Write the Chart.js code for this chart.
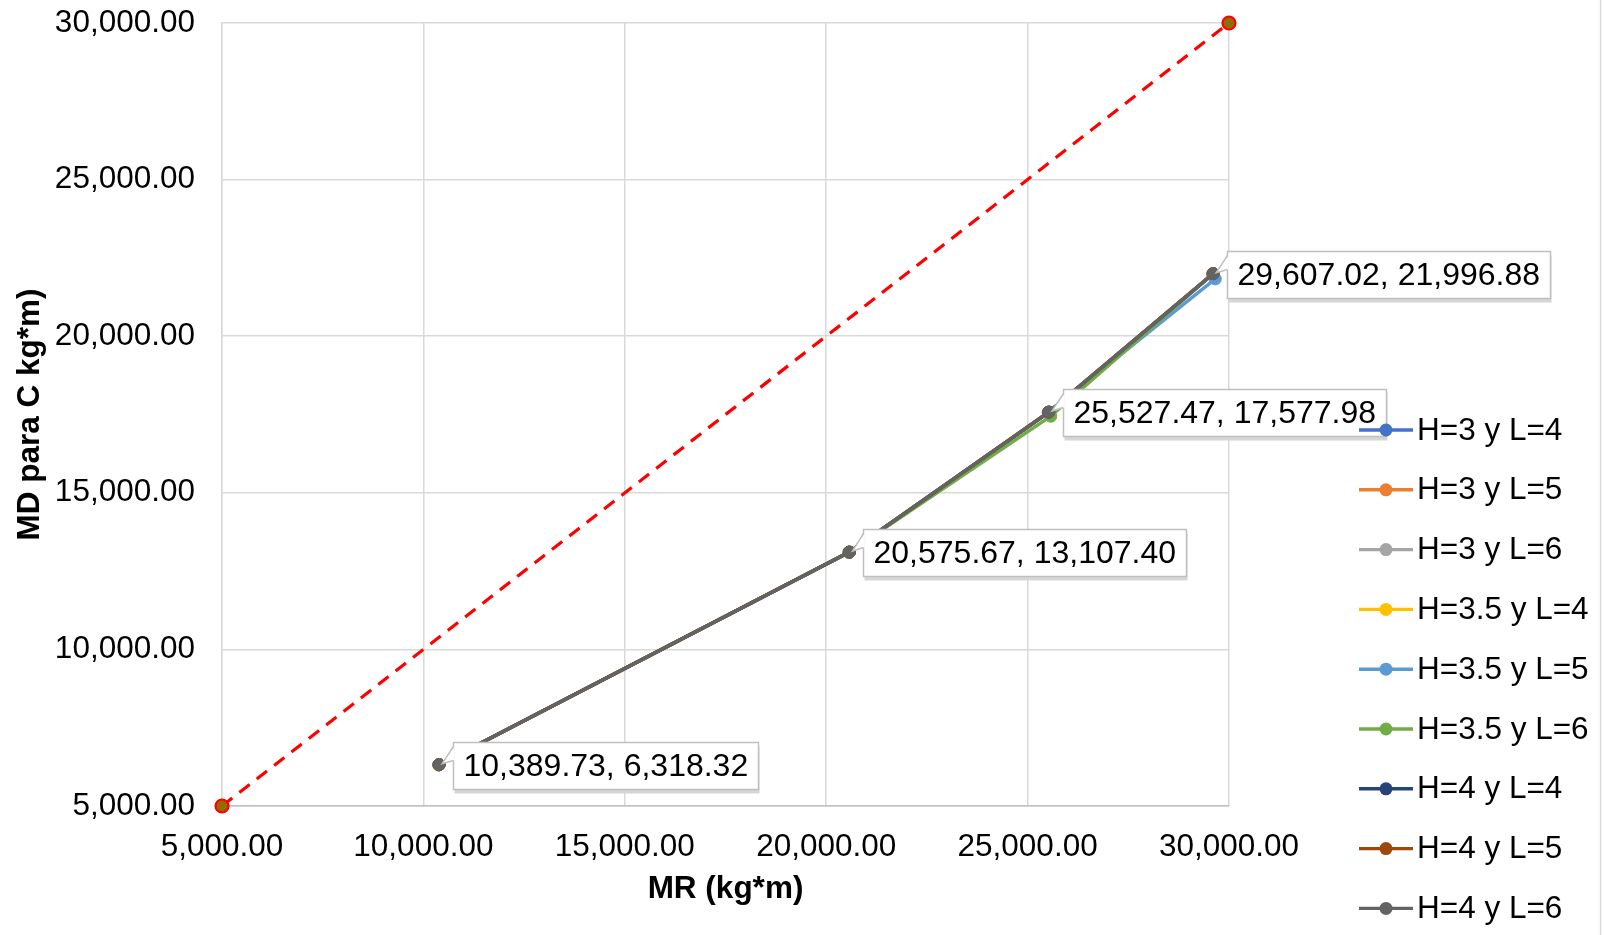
<!DOCTYPE html>
<html>
<head>
<meta charset="utf-8">
<script src="https://cdn.jsdelivr.net/npm/chart.js@4.4.1/dist/chart.umd.min.js"></script>
<style>
html,body{margin:0;padding:0;background:#ffffff;overflow:hidden;}
#wrap{position:relative;width:1606px;height:935px;}
</style>
</head>
<body>
<div id="wrap"><canvas id="c" width="1606" height="935"></canvas></div>
<script>
// ---------- DATA ----------
const seriesNames = ['H=3 y L=4','H=3 y L=5','H=3 y L=6','H=3.5 y L=4','H=3.5 y L=5','H=3.5 y L=6','H=4 y L=4','H=4 y L=5','H=4 y L=6'];
const seriesColors = ['#4472C4','#ED7D31','#A5A5A5','#FFC000','#5B9BD5','#70AD47','#264478','#9E480E','#636363'];

const mr_H3_L4   = [10380.50, 20560.20, 25510.80, 29590.40];
const md_H3_L4   = [6310.60, 13095.20, 17560.30, 21975.10];
const mr_H3_L5   = [10384.10, 20566.90, 25518.30, 29598.70];
const md_H3_L5   = [6313.90, 13100.80, 17568.40, 21986.20];
const mr_H3_L6   = [10387.20, 20571.30, 25523.60, 29603.10];
const md_H3_L6   = [6316.10, 13104.50, 17573.70, 21992.00];
const mr_H35_L4  = [10382.40, 20563.00, 25514.90, 29594.60];
const md_H35_L4  = [6312.00, 13097.90, 17564.10, 21980.70];
const mr_H35_L5  = [10386.00, 20569.80, 25521.10, 29660.00];
const md_H35_L5  = [6315.00, 13102.60, 17571.20, 21830.00];
const mr_H35_L6  = [10388.10, 20572.50, 25575.00, 29605.50];
const md_H35_L6  = [6317.20, 13105.90, 17445.00, 21994.30];
const mr_H4_L4   = [10389.00, 20574.20, 25525.90, 29605.80];
const md_H4_L4   = [6317.80, 13106.50, 17576.40, 21995.20];
const mr_H4_L5   = [10389.40, 20575.00, 25526.80, 29606.40];
const md_H4_L5   = [6318.00, 13107.00, 17577.20, 21996.10];
const mr_H4_L6   = [10389.73, 20575.67, 25527.47, 29607.02];
const md_H4_L6   = [6318.32, 13107.40, 17577.98, 21996.88];

const refLineX = [5000, 30000];
const refLineY = [5000, 30000];

const xTickValues = [5000, 10000, 15000, 20000, 25000, 30000];
const yTickValues = [5000, 10000, 15000, 20000, 25000, 30000];

const xTitle = 'MR (kg*m)';
const yTitle = 'MD para C kg*m)';

const mrSeries = [mr_H3_L4, mr_H3_L5, mr_H3_L6, mr_H35_L4, mr_H35_L5, mr_H35_L6, mr_H4_L4, mr_H4_L5, mr_H4_L6];
const mdSeries = [md_H3_L4, md_H3_L5, md_H3_L6, md_H35_L4, md_H35_L5, md_H35_L6, md_H4_L4, md_H4_L5, md_H4_L6];
const labeledSeries = 8; // H=4 y L=6 shows its data labels

// ---------- HELPERS ----------
const FONT = '"Liberation Sans", Arial, Helvetica, sans-serif';
const fmt = v => Number(v).toLocaleString('en-US', {minimumFractionDigits: 2, maximumFractionDigits: 2});
const toPts = (xs, ys) => xs.map((x, i) => ({x: x, y: ys[i]}));

const datasets = seriesNames.map((name, i) => ({
  label: name,
  data: toPts(mrSeries[i], mdSeries[i]),
  showLine: true,
  borderColor: seriesColors[i],
  backgroundColor: seriesColors[i],
  pointBackgroundColor: seriesColors[i],
  pointBorderColor: seriesColors[i],
  pointRadius: 6,
  pointBorderWidth: 1,
  borderWidth: 3.4,
  order: seriesNames.length - i,
  clip: false,
  inLegend: true,
  showLabels: i === labeledSeries
}));
datasets.push({
  label: 'ref',
  data: toPts(refLineX, refLineY),
  showLine: true,
  borderColor: '#FF0000',
  borderDash: [13, 9],
  borderWidth: 3.2,
  pointRadius: 6.5,
  pointBorderWidth: 2.2,
  pointBackgroundColor: '#8F6D00',
  pointBorderColor: '#FF0000',
  order: 20,
  clip: false,
  inLegend: false
});

// ---------- PLUGINS ----------
const frameLine = {
  id: 'frameLine',
  afterDraw(chart) {
    const ctx = chart.ctx;
    ctx.save();
    ctx.strokeStyle = '#D9D9D9';
    ctx.lineWidth = 1.5;
    ctx.beginPath();
    ctx.moveTo(1600.5, 0);
    ctx.lineTo(1600.5, chart.height);
    ctx.stroke();
    ctx.restore();
  }
};

const calloutLabels = {
  id: 'calloutLabels',
  afterDatasetsDraw(chart) {
    const ctx = chart.ctx;
    chart.data.datasets.forEach((ds, di) => {
      if (!ds.showLabels) return;
      const meta = chart.getDatasetMeta(di);
      ctx.save();
      ctx.font = '32px ' + FONT;
      meta.data.forEach((pt, i) => {
        const raw = ds.data[i];
        const text = fmt(raw.x) + ', ' + fmt(raw.y);
        const tw = ctx.measureText(text).width;
        const bx = Math.round(pt.x + 14) + 0.5;
        const by = Math.round(pt.y - 23) + 0.5;
        const bw = Math.round(tw + 20);
        const bh = 47;
        // shadow
        ctx.fillStyle = '#D6D6D6';
        ctx.fillRect(bx + 1, by + 4, bw, bh);
        // box
        ctx.fillStyle = '#FFFFFF';
        ctx.fillRect(bx, by, bw, bh);
        ctx.strokeStyle = '#BFBFBF';
        ctx.lineWidth = 1.5;
        ctx.strokeRect(bx, by, bw, bh);
        // callout wedge
        const b1 = by + 4, b2 = by + 18;
        const tipX = pt.x + 3, tipY = pt.y - 1;
        ctx.beginPath();
        ctx.moveTo(bx + 1, b1);
        ctx.lineTo(tipX, tipY);
        ctx.lineTo(bx + 1, b2);
        ctx.closePath();
        ctx.fillStyle = '#FFFFFF';
        ctx.fill();
        ctx.beginPath();
        ctx.moveTo(bx, b1);
        ctx.lineTo(tipX, tipY);
        ctx.lineTo(bx, b2);
        ctx.strokeStyle = '#BFBFBF';
        ctx.stroke();
        // text
        ctx.fillStyle = '#000000';
        ctx.textAlign = 'left';
        ctx.textBaseline = 'middle';
        ctx.fillText(text, bx + 10, by + bh / 2 + 1);
      });
      ctx.restore();
    });
  }
};

const sideLegend = {
  id: 'sideLegend',
  afterDraw(chart) {
    const ctx = chart.ctx;
    ctx.save();
    ctx.font = '31.5px ' + FONT;
    ctx.textAlign = 'left';
    ctx.textBaseline = 'middle';
    let row = 0;
    chart.data.datasets.forEach(ds => {
      if (!ds.inLegend) return;
      const y = 430 + row * 59.8;
      ctx.strokeStyle = ds.borderColor;
      ctx.lineWidth = 3.4;
      ctx.beginPath();
      ctx.moveTo(1359, y);
      ctx.lineTo(1413, y);
      ctx.stroke();
      ctx.fillStyle = ds.borderColor;
      ctx.beginPath();
      ctx.arc(1386, y, 6.5, 0, Math.PI * 2);
      ctx.fill();
      ctx.fillStyle = '#000000';
      ctx.fillText(ds.label, 1417, y + 1);
      row++;
    });
    ctx.restore();
  }
};

// ---------- CHART ----------
new Chart(document.getElementById('c'), {
  type: 'scatter',
  data: { datasets: datasets },
  options: {
    responsive: false,
    animation: false,
    devicePixelRatio: 1,
    layout: { padding: { top: 23, right: 377, bottom: 0, left: 0 } },
    plugins: {
      legend: { display: false },
      tooltip: { enabled: false }
    },
    scales: {
      x: {
        type: 'linear',
        min: 5000, max: 30000,
        afterBuildTicks: s => { s.ticks = xTickValues.map(v => ({value: v})); },
        afterFit: s => { s.height = 129; s.paddingLeft = 0; s.paddingRight = 0; },
        ticks: {
          callback: v => fmt(v),
          color: '#000000',
          font: { family: FONT, size: 31.5 },
          padding: 22,
          maxRotation: 0,
          autoSkip: false
        },
        grid: { color: '#D9D9D9', lineWidth: 1.5, drawTicks: false },
        border: { color: '#BFBFBF', width: 1.5 },
        title: {
          display: true, text: xTitle, color: '#000000',
          font: { family: FONT, size: 31.5, weight: 'bold' },
          padding: { top: 0, bottom: 27 }
        }
      },
      y: {
        type: 'linear',
        min: 5000, max: 30000,
        afterBuildTicks: s => { s.ticks = yTickValues.map(v => ({value: v})); },
        afterFit: s => { s.width = 222; s.paddingTop = 0; s.paddingBottom = 0; },
        ticks: {
          callback: v => fmt(v),
          color: '#000000',
          font: { family: FONT, size: 31.5 },
          padding: 27,
          autoSkip: false
        },
        grid: { color: '#D9D9D9', lineWidth: 1.5, drawTicks: false },
        border: { color: '#D9D9D9', width: 1.5 },
        title: {
          display: true, text: yTitle, color: '#000000',
          font: { family: FONT, size: 31.5, weight: 'bold' },
          padding: { top: 11, bottom: 0 }
        }
      }
    }
  },
  plugins: [calloutLabels, sideLegend, frameLine]
});
</script>
</body>
</html>
